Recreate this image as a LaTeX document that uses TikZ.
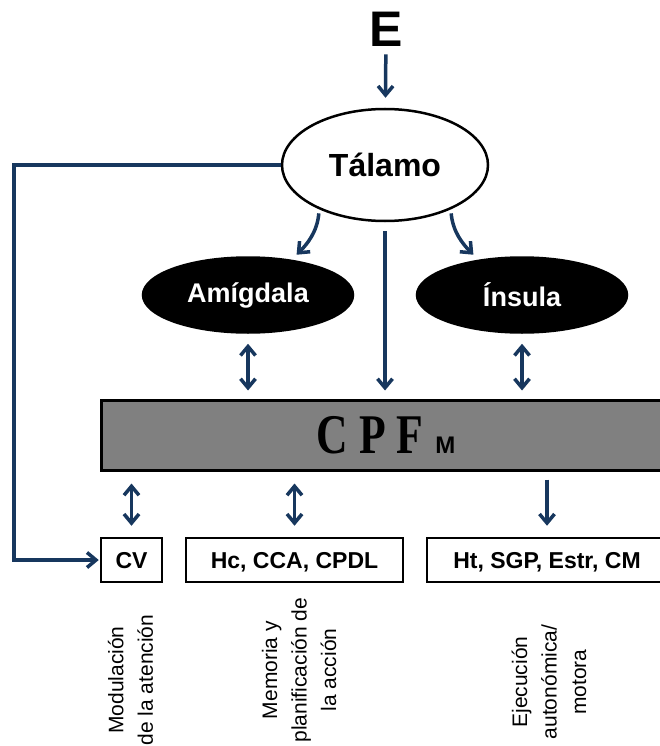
\documentclass[tikz,border=0pt]{standalone}
\usepackage{fontspec}
\setmainfont{Liberation Sans}
\newfontfamily\cpffont[FakeStretch=0.78]{Liberation Serif}
\usetikzlibrary{arrows.meta,shapes.geometric}
\definecolor{navy}{RGB}{23,55,94}

\begin{document}
\begin{tikzpicture}[x=1pt,y=-1pt,>={Straight Barb[length=9pt,width=15pt]},
  every node/.style={font=\bfseries},
  arr/.style={navy,line width=3.5pt},
  oval/.style={ellipse,draw,line width=2.5pt,inner sep=0pt,minimum width=210pt,minimum height=75pt,
    font=\fontsize{27}{27}\selectfont\bfseries},
  lbox/.style={draw,line width=2.5pt,inner sep=0pt,minimum height=44pt,text height=16.5pt,text depth=0pt,
    font=\fontsize{23}{23}\selectfont\bfseries},
  note/.style={rotate=90,align=center,font=\fontsize{21}{29.5}\selectfont}]
  \useasboundingbox (0,0) rectangle (660,746);
  \clip (0,0) rectangle (660,746);
  \node[inner sep=0pt,font=\fontsize{50}{50}\selectfont\bfseries] (E) at (386,29) {E};
  \node[oval,minimum width=206pt,minimum height=112pt,font=\fontsize{32}{32}\selectfont\bfseries] (tal) at (385,165) {Tálamo};
  \node[oval,fill=black,text=white] (amig) at (248,295) {Amígdala};
  \node[oval,fill=black,text=white] (ins) at (522,295) {Ínsula};
  \node[draw,line width=3pt,fill=black!50,inner sep=0pt,minimum width=570pt,minimum height=70pt] (cpf) at (386,435)
    {{\cpffont\fontsize{56}{56}\selectfont C P F}\hspace{12pt}{\fontsize{24}{24}\selectfont M}};
  \node[lbox,minimum width=61pt] (cv) at (131.5,560) {CV};
  \node[lbox,minimum width=217pt] (hc) at (294.5,560) {Hc, CCA, CPDL};
  \node[lbox,minimum width=240pt] (ht) at (547,560) {Ht, SGP, Estr, CM};
  \node[note] (nmod) at (130.5,680) {Modulación\\de la atención};
  \node[note] (nmem) at (299,670) {Memoria y\\planificación de\\la acción};
  \node[note] (neje) at (549,682) {Ejecución\\autonómica/\\motora};
  \coordinate (lp) at (14,165);

  \draw[arr,->,shorten <=8pt,shorten >=10pt] (E) -- (tal);
  \draw[arr,->,shorten <=4pt,shorten >=7pt] (tal.214) to[out=-95,in=45] (amig.39);
  \draw[arr,->,shorten <=4pt,shorten >=7pt] (tal.326) to[out=-85,in=135] (ins.141);
  \draw[arr,->,shorten <=9pt,shorten >=8pt] (tal.south) -- (tal.south |- cpf.north);
  \draw[arr,<->,shorten <=10pt,shorten >=8pt] (amig.south) -- (amig.south |- cpf.north);
  \draw[arr,<->,shorten <=10pt,shorten >=8pt] (ins.south) -- (ins.south |- cpf.north);
  \draw[arr,<->,shorten <=12pt,shorten >=11pt] (cv.north |- cpf.south) -- (cv.north);
  \draw[arr,<->,shorten <=12pt,shorten >=11pt] (hc.north |- cpf.south) -- (hc.north);
  \draw[arr,->,shorten <=8pt,shorten >=11pt] (ht.north |- cpf.south) -- (ht.north);
  \draw[arr,->,shorten >=1pt] (tal.west) -- (lp) |- (cv.west);
\end{tikzpicture}
\end{document}
